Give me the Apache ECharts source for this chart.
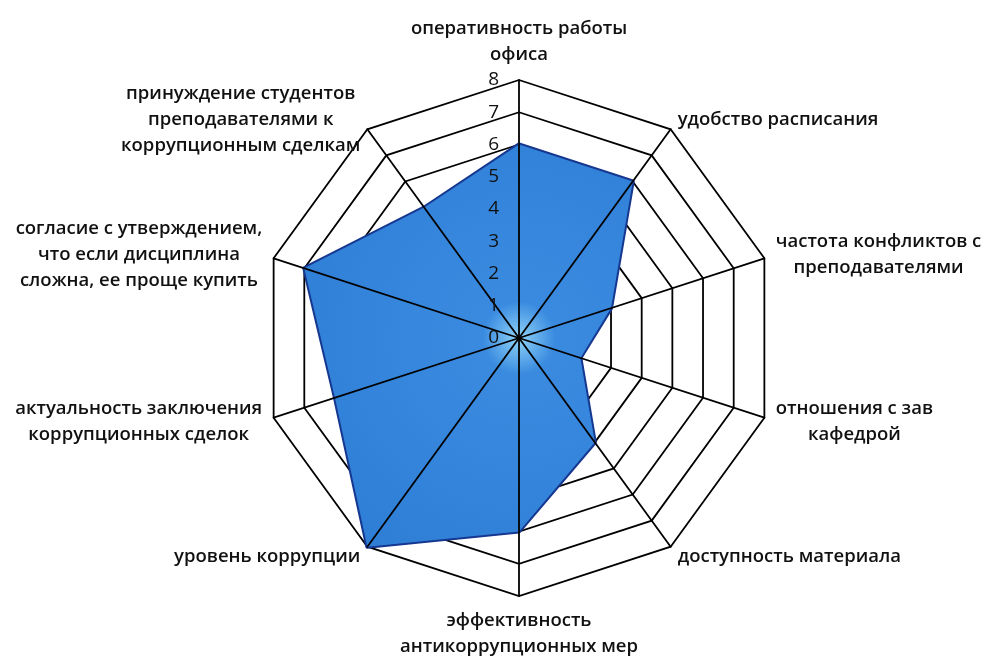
<!DOCTYPE html>
<html>
<head>
<meta charset="utf-8">
<script src="https://cdn.jsdelivr.net/npm/echarts@6/dist/echarts.min.js"></script>
<style>html,body{margin:0;padding:0;background:#fff}#c{width:983px;height:659px}</style>
</head>
<body>
<div id="c"></div>
<script>
// Indicators, clockwise from the top
const categories = [
  'оперативность работы\nофиса',
  'удобство расписания',
  'частота конфликтов с\nпреподавателями',
  'отношения с зав\nкафедрой',
  'доступность материала',
  'эффективность\nантикоррупционных мер',
  'уровень коррупции',
  'актуальность заключения\nкоррупционных сделок',
  'согласие с утверждением,\nчто если дисциплина\nсложна, ее проще купить',
  'принуждение студентов\nпреподавателями к\nкоррупционным сделкам'
];
const values = [6, 6, 3, 2, 4, 6, 8, 6, 7, 5];
const axisMin = 0, axisMax = 8, axisStep = 1;

// ECharts radar places indicators counter-clockwise; reverse (keeping the first on top)
const order = [0].concat(categories.map((_, i) => i).slice(1).reverse());
const indicators = order.map(i => ({ name: categories[i], min: axisMin, max: axisMax }));
const seriesValues = order.map(i => values[i]);

const CENTER = [519, 338], RADIUS = 258;
const FONT = '"Open Sans", "Noto Sans", sans-serif';

const chart = echarts.init(document.getElementById('c'), null, { renderer: 'canvas' });
chart.setOption({
  animation: false,
  backgroundColor: '#fff',
  radar: [
    {
      center: CENTER, radius: RADIUS, startAngle: 90, shape: 'polygon',
      splitNumber: (axisMax - axisMin) / axisStep,
      indicator: indicators,
      axisName: {
        color: '#111', fontFamily: FONT, fontSize: 18.5, fontWeight: 600, lineHeight: 26,
        formatter: n => n.split('\n').map(l => '{c|' + l + '}').join('\n'),
        rich: { c: { align: 'center', color: '#111', fontFamily: FONT, fontSize: 18.5, fontWeight: 600, lineHeight: 26 } }
      },
      nameGap: 12,
      splitLine: { lineStyle: { color: '#000', width: 1.8 } },
      splitArea: { show: false },
      axisLine: { show: false }
    },
    {
      center: CENTER, radius: RADIUS, startAngle: 90, shape: 'polygon',
      splitNumber: (axisMax - axisMin) / axisStep,
      indicator: indicators.map(d => ({ name: '', min: d.min, max: d.max })),
      axisName: { show: false },
      splitLine: { show: false },
      splitArea: { show: false },
      axisLine: { lineStyle: { color: '#000', width: 1.8 } },
      z: 5
    }
  ],
  polar: { center: CENTER, radius: RADIUS },
  angleAxis: { show: false, startAngle: 90, min: 0, max: 360 },
  radiusAxis: {
    min: axisMin, max: axisMax, interval: axisStep, z: 10,
    axisLine: { show: false }, axisTick: { show: false }, splitLine: { show: false },
    axisLabel: { color: '#111', fontFamily: FONT, fontSize: 19, margin: 20 }
  },
  series: [
    {
      type: 'radar', radarIndex: 0, z: 2, symbol: 'none',
      data: [{ value: seriesValues }],
      lineStyle: { color: '#15378f', width: 4 },
      areaStyle: {
        opacity: 1,
        color: {
          type: 'radial', x: CENTER[0], y: CENTER[1], r: RADIUS, global: true,
          colorStops: [
            { offset: 0, color: '#8fd3f7' },
            { offset: 0.14, color: '#3a8be0' },
            { offset: 1, color: '#2e7ed6' }
          ]
        }
      }
    },
    {
      type: 'scatter', coordinateSystem: 'polar', data: [], silent: true
    }
  ]
});
</script>
</body>
</html>
